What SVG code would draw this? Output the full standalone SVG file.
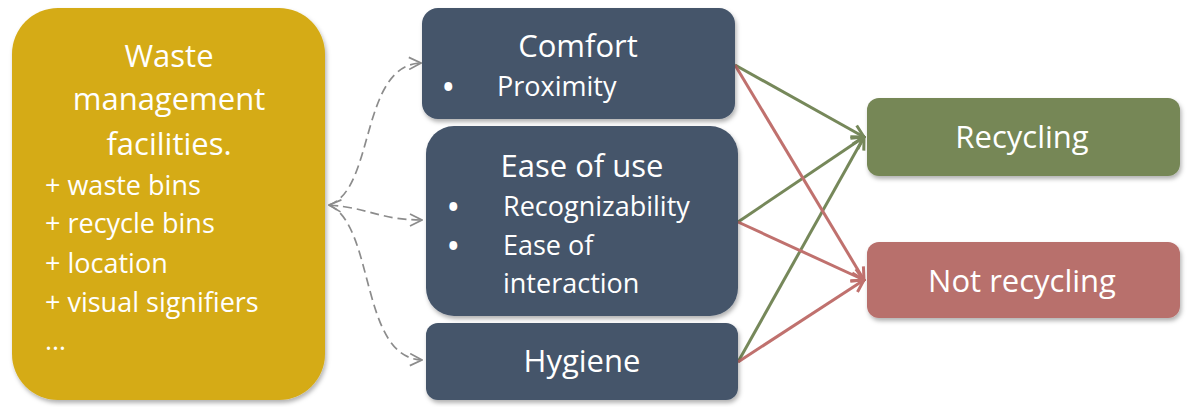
<svg xmlns="http://www.w3.org/2000/svg" width="1190" height="407" viewBox="0 0 1190 407">
<style>
.t{font-family:"Open Sans","Liberation Sans",sans-serif;fill:#fff}
.h{font-size:31px;text-anchor:middle}
.b{font-size:27px}
.bu{font-size:28px;font-weight:bold}
.dash{fill:none;stroke:#8c8c8c;stroke-width:1.7;stroke-dasharray:9 5}
.g{fill:none;stroke:#76885A;stroke-width:3}
.r{fill:none;stroke:#C0716E;stroke-width:3}
</style>
<defs>
<filter id="sh" x="-10%" y="-10%" width="120%" height="125%">
<feDropShadow dx="1.5" dy="3" stdDeviation="2" flood-color="#000" flood-opacity="0.3"/>
</filter>
<marker id="ad" viewBox="0 0 14 14" refX="13" refY="7" markerWidth="14" markerHeight="14" markerUnits="userSpaceOnUse" orient="auto-start-reverse">
<path d="M1,1 L13,7 L1,13" fill="none" stroke="#8c8c8c" stroke-width="1.7"/>
</marker>
<marker id="ag" viewBox="0 0 16 16" refX="14" refY="8" markerWidth="16" markerHeight="16" markerUnits="userSpaceOnUse" orient="auto">
<path d="M2,1.5 L14,8 L2,14.5" fill="none" stroke="#76885A" stroke-width="3"/>
</marker>
<marker id="ar" viewBox="0 0 16 16" refX="14" refY="8" markerWidth="16" markerHeight="16" markerUnits="userSpaceOnUse" orient="auto">
<path d="M2,1.5 L14,8 L2,14.5" fill="none" stroke="#C0716E" stroke-width="3"/>
</marker>
</defs>
<rect width="1190" height="407" fill="#fff"/>

<g id="connectors">
<path class="dash" d="M329,205 C375,190 360,65 421,63" marker-end="url(#ad)"/>
<path class="dash" d="M329,205 C370,208 380,220 422,220" marker-start="url(#ad)" marker-end="url(#ad)"/>
<path class="dash" d="M329,205 C375,225 360,358 422,360" marker-end="url(#ad)"/>
<line class="g" x1="735" y1="65" x2="864" y2="137" marker-end="url(#ag)"/>
<line class="g" x1="738" y1="222" x2="864" y2="137" marker-end="url(#ag)"/>
<line class="g" x1="738" y1="362" x2="864" y2="137" marker-end="url(#ag)"/>
<line class="r" x1="735" y1="65" x2="864" y2="280" marker-end="url(#ar)"/>
<line class="r" x1="738" y1="222" x2="864" y2="280" marker-end="url(#ar)"/>
<line class="r" x1="738" y1="362" x2="864" y2="280" marker-end="url(#ar)"/>
</g>

<g id="facilities">
<rect x="12" y="8" width="313" height="392" rx="46" fill="#D5AB19" filter="url(#sh)"/>
<text class="t h" x="169" y="67">Waste</text>
<text class="t h" x="169" y="110">management</text>
<text class="t h" x="169" y="155">facilities.</text>
<text class="t b" x="45" y="195">+ waste bins</text>
<text class="t b" x="45" y="233">+ recycle bins</text>
<text class="t b" x="45" y="273">+ location</text>
<text class="t b" x="45" y="312">+ visual signifiers</text>
<text class="t b" x="45" y="350">…</text>
</g>

<g id="comfort">
<rect x="422" y="8" width="313" height="111" rx="16" fill="#44546A" filter="url(#sh)"/>
<text class="t h" x="578" y="57">Comfort</text>
<text class="t bu" x="443" y="97">•</text>
<text class="t b" x="497" y="96">Proximity</text>
</g>

<g id="ease">
<rect x="426" y="126" width="312" height="190" rx="28" fill="#44546A" filter="url(#sh)"/>
<text class="t h" x="582" y="177">Ease of use</text>
<text class="t bu" x="448" y="217">•</text>
<text class="t b" x="503" y="216">Recognizability</text>
<text class="t bu" x="448" y="256">•</text>
<text class="t b" x="503" y="255">Ease of</text>
<text class="t b" x="503" y="293">interaction</text>
</g>

<g id="hygiene">
<rect x="426" y="323" width="312" height="77" rx="12" fill="#44546A" filter="url(#sh)"/>
<text class="t h" x="582" y="372">Hygiene</text>
</g>

<g id="recycling">
<rect x="867" y="98" width="313" height="78" rx="12" fill="#768757" filter="url(#sh)"/>
<text class="t h" x="1022" y="148">Recycling</text>
</g>

<g id="not-recycling">
<rect x="867" y="242" width="313" height="76" rx="12" fill="#B86F6C" filter="url(#sh)"/>
<text class="t h" x="1022" y="292">Not recycling</text>
</g>
</svg>
